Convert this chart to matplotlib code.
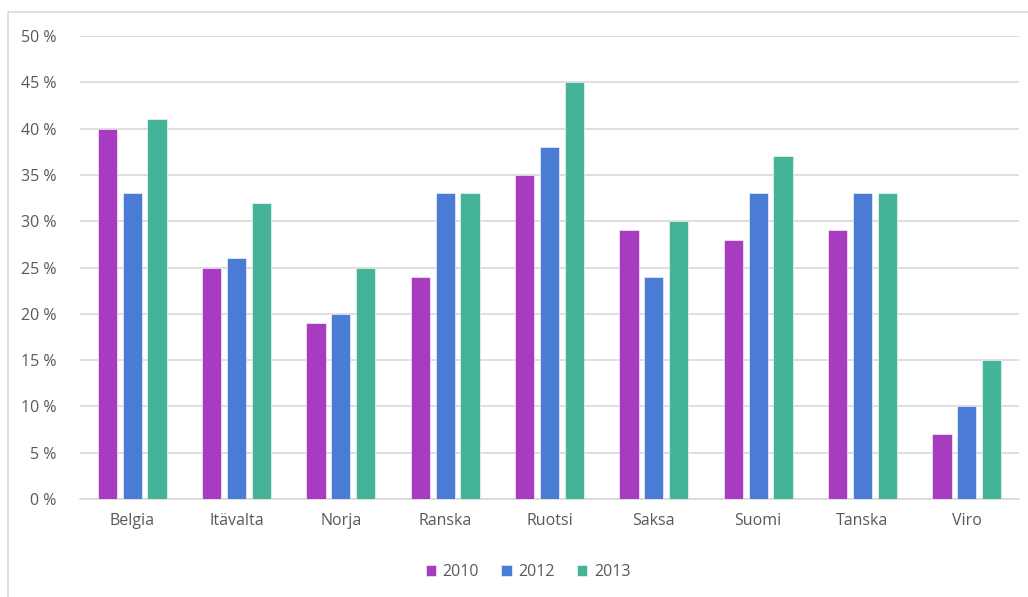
import numpy as np
import matplotlib.pyplot as plt
from matplotlib.patches import Rectangle
from matplotlib.ticker import FuncFormatter

maat = ["Belgia", "Itävalta", "Norja", "Ranska", "Ruotsi", "Saksa", "Suomi", "Tanska", "Viro"]
vuodet = ["2010", "2012", "2013"]
v2010 = [40, 25, 19, 24, 35, 29, 28, 29, 7]
v2012 = [33, 26, 20, 33, 38, 24, 33, 33, 10]
v2013 = [41, 32, 25, 33, 45, 30, 37, 33, 15]
varit = ["#a83cc1", "#4a7bd5", "#45b398"]

plt.rcParams['font.family'] = ['Open Sans', 'DejaVu Sans']
harmaa = "#595959"
koko = 11.5

fig = plt.figure(figsize=(10.28, 5.97), dpi=100)
# kehys kaavion ympärillä
fig.patches.append(Rectangle((8 / 1028, -0.1), 1.1, (1 - 12 / 597) + 0.1,
                             transform=fig.transFigure, fill=False,
                             edgecolor="#d9d9d9", linewidth=1.2))

ax = fig.add_axes([80 / 1028, 1 - 499 / 597, (1019 - 80) / 1028, (499 - 36) / 597])

x = np.arange(len(maat))
leveys = 0.185
askel = 0.237
for i, (arvot, vuosi) in enumerate(zip([v2010, v2012, v2013], vuodet)):
    ax.bar(x + (i - 1) * askel, arvot, width=leveys, color=varit[i], label=vuosi,
           edgecolor="white", linewidth=0.4, zorder=3)

ax.set_xlim(-0.5, len(maat) - 0.5)
ax.set_ylim(0, 50)
ax.set_yticks(range(0, 51, 5))
ax.yaxis.set_major_formatter(FuncFormatter(lambda v, p: f"{int(v)} %"))
ax.set_xticks(x)
ax.set_xticklabels(maat)
ax.grid(axis="y", color="#d9d9d9", linewidth=1.2, zorder=0)
for s in ["top", "right", "left"]:
    ax.spines[s].set_visible(False)
ax.spines["bottom"].set_color("#d9d9d9")
ax.spines["bottom"].set_linewidth(1.2)
ax.tick_params(axis="both", length=0, colors=harmaa, labelsize=koko)
ax.tick_params(axis="y", pad=17)
ax.tick_params(axis="x", pad=10)

fig.legend(loc="center", bbox_to_anchor=(528 / 1028, 1 - 572 / 597), ncol=3,
           frameon=False, fontsize=koko, handlelength=0.65, handleheight=0.65,
           handletextpad=0.4, columnspacing=1.4, labelcolor=harmaa)

fig.savefig("out.png", dpi=100)
